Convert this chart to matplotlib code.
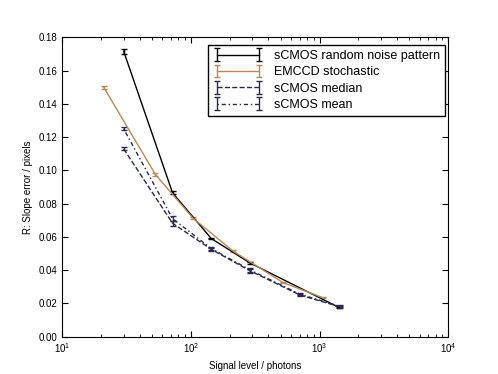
import matplotlib
matplotlib.use("Agg")
import matplotlib.pyplot as plt
import numpy as np

plt.rcParams['font.family'] = ['Liberation Sans', 'DejaVu Sans']

# Data
rand_x = [30, 72, 144, 288, 1420]
rand_y = [0.1717, 0.0865, 0.0590, 0.0443, 0.0175]
rand_e = [0.0015, 0.0008, 0.0005, 0.0004, 0.0004]

emccd_x = [21, 53, 104, 213, 520, 1070]
emccd_y = [0.1500, 0.0975, 0.0712, 0.0514, 0.0325, 0.0233]
emccd_e = [0.0010, 0.0007, 0.0005, 0.0004, 0.0003, 0.0003]

med_x = [30, 72, 144, 290, 705, 1430]
med_y = [0.1130, 0.0682, 0.0525, 0.0395, 0.0250, 0.0180]
med_e = [0.0010, 0.0015, 0.0008, 0.0010, 0.0006, 0.0006]

mean_x = [30, 72, 144, 290, 705, 1430]
mean_y = [0.1250, 0.0710, 0.0530, 0.0400, 0.0255, 0.0182]
mean_e = [0.0008, 0.0015, 0.0008, 0.0010, 0.0006, 0.0006]

labels = ['sCMOS random noise pattern', 'EMCCD stochastic', 'sCMOS median', 'sCMOS mean']

fig = plt.figure(figsize=(4.98, 3.74), dpi=100)
ax = fig.add_axes([0.125, 0.1, 0.775, 0.8])

tan = '#b8895c'
navy = '#2a2a4e'
ax.errorbar(rand_x, rand_y, yerr=rand_e, color='black', lw=1.0, capsize=2.5, label=labels[0])
ax.errorbar(emccd_x, emccd_y, yerr=emccd_e, color=tan, lw=1.0, capsize=2.5, label=labels[1])
ax.errorbar(med_x, med_y, yerr=med_e, color=navy, lw=1.0, ls='--', capsize=2.5, label=labels[2])
ax.errorbar(mean_x, mean_y, yerr=mean_e, color=navy, lw=1.0, ls=(0, (1, 2, 3, 2)), capsize=2.5, label=labels[3])

ax.set_xscale('log')
ax.set_xlim(10, 1e4)
ax.set_ylim(0, 0.18)
ax.set_yticks(np.arange(0, 0.181, 0.02))
ax.yaxis.set_major_formatter(matplotlib.ticker.FormatStrFormatter('%.2f'))
ax.tick_params(which='both', direction='in', top=True, right=True, labelsize=7)
ax.tick_params(which='major', length=4)
ax.tick_params(which='minor', length=2)
ax.set_xlabel('Signal level / photons', fontsize=7)
ax.set_ylabel('R: Slope error / pixels', fontsize=7)

leg = ax.legend(loc='upper right', bbox_to_anchor=(0.993, 0.975), fontsize=9, fancybox=False,
                framealpha=1, numpoints=2, handlelength=4.0, borderaxespad=0.0,
                labelspacing=0.35, borderpad=0.4, handletextpad=0.9)
leg.get_frame().set_edgecolor('black')

fig.savefig('out.png', dpi=100)
